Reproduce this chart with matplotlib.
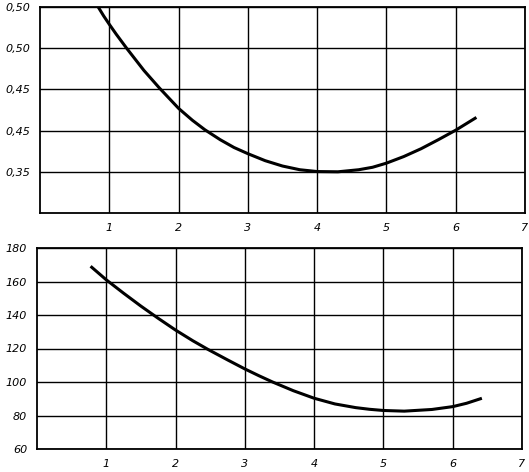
import matplotlib
matplotlib.use('Agg')
import matplotlib.pyplot as plt

# upper curve
x_top = [0.84, 0.92, 1.0, 1.1, 1.25, 1.5, 1.72, 2.0, 2.2, 2.38, 2.6, 2.8, 3.0, 3.25, 3.5, 3.75,
         4.0, 4.3, 4.6, 4.8, 5.0, 5.25, 5.5, 5.75, 6.0, 6.28]
y_top = [0.55, 0.539, 0.529, 0.517, 0.50, 0.473, 0.452, 0.427, 0.4125, 0.401, 0.389, 0.3795, 0.372,
         0.3635, 0.357, 0.3525, 0.3503, 0.350, 0.3525, 0.3555, 0.3605, 0.3685, 0.378, 0.389, 0.4005, 0.415]
top_ticks = [0.35, 0.40, 0.45, 0.50, 0.55]
top_labels = ['0,35', '0,45', '0,45', '0,50', '0,50']   # as printed

# lower curve
x_bot = [0.79, 1.0, 1.25, 1.5, 1.75, 2.0, 2.25, 2.47, 2.75, 3.0, 3.2, 3.4, 3.7, 4.0, 4.3, 4.6,
         4.8, 5.0, 5.3, 5.7, 6.0, 6.2, 6.4]
y_bot = [168.5, 161, 153, 145.3, 138, 131, 124.6, 119.4, 113.2, 107.8, 103.8, 100, 94.8, 90.3,
         86.9, 84.7, 83.7, 83.0, 82.6, 83.6, 85.3, 87.3, 90]
bot_ticks = [60, 80, 100, 120, 140, 160, 180]
bot_labels = ['60', '80', '100', '120', '140', '160', '180']

x_ticks = [1, 2, 3, 4, 5, 6, 7]
x_labels = ['1', '2', '3', '4', '5', '6', '7']

fig = plt.figure(figsize=(5.29, 4.72), dpi=100)
ax1 = fig.add_axes([40/529, 1-213/472, 485/529, 206/472])
ax2 = fig.add_axes([37/529, 1-449/472, 485/529, 201/472])

def style(ax, yticks, ylabels, ylim):
    ax.set_xlim(0, 7)
    ax.set_ylim(*ylim)
    ax.set_xticks(x_ticks)
    ax.set_xticklabels(x_labels, fontsize=8, style='italic')
    ax.set_yticks(yticks)
    ax.set_yticklabels(ylabels, fontsize=8, style='italic')
    ax.tick_params(length=0, pad=7)
    ax.grid(True, color='black', lw=1.0)
    for s in ax.spines.values():
        s.set_linewidth(1.3)

style(ax1, top_ticks, top_labels, (0.30, 0.55))
ax1.plot(x_top, y_top, color='black', lw=2.2, solid_joinstyle='round')

style(ax2, bot_ticks, bot_labels, (60, 180))
ax2.plot(x_bot, y_bot, color='black', lw=2.2, solid_joinstyle='round')

fig.savefig('out.png', dpi=100)
